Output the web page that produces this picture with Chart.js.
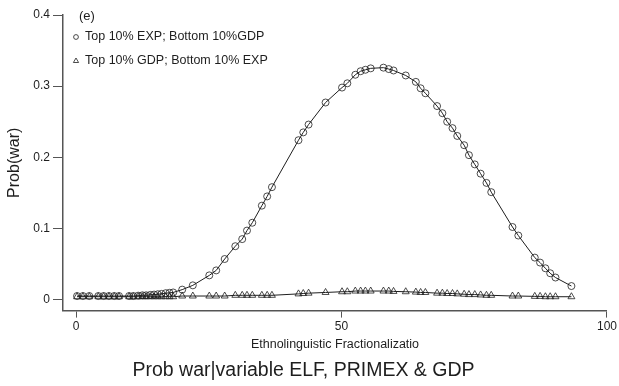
<!DOCTYPE html>
<html>
<head>
<meta charset="utf-8">
<script src="https://cdn.jsdelivr.net/npm/chart.js@4.4.0/dist/chart.umd.min.js"></script>
<style>
    html, body { margin: 0; padding: 0; background: #fff; }
    #wrap { width: 619px; height: 386px; position: relative; }
</style>
</head>
<body>
<div id="wrap"><canvas id="probWarChart"></canvas></div>
<script>
const FONT = "'Liberation Sans', Arial, sans-serif";
const INK = '#1e1e1e';
const AXIS = '#555555';

const elf = [0.2, 1.3, 2.5, 4.2, 5.2, 6.2, 7.2, 8.1,
    10.0, 10.8, 11.7, 12.5, 13.2, 14.0, 14.7, 15.4, 16.1, 16.9, 17.6, 18.3,
    20.0, 22.0, 25.1, 26.4, 28.0, 30.0, 31.3, 32.2, 33.2, 35.0, 36.0, 36.9,
    41.9, 42.8, 43.8, 47.0, 50.1, 51.1, 52.6, 53.6, 54.5, 55.5, 57.9, 58.9, 59.8,
    62.1, 64.0, 64.9, 65.8, 68.0, 69.0, 69.9, 70.9, 71.8, 73.1, 74.0, 75.1, 76.2,
    77.3, 78.2, 82.2, 83.3, 86.4, 87.4, 88.4, 89.3, 90.3, 93.3];

const topExpBottomGdp = [0.005, 0.005, 0.005, 0.005, 0.005, 0.005, 0.005, 0.005,
    0.005, 0.005, 0.0055, 0.006, 0.006, 0.0066, 0.007, 0.0075, 0.008, 0.009, 0.0095, 0.010,
    0.014, 0.020, 0.034, 0.041, 0.057, 0.075, 0.085, 0.097, 0.108, 0.132, 0.145, 0.158,
    0.224, 0.235, 0.246, 0.277, 0.298, 0.304, 0.316, 0.321, 0.323, 0.325, 0.326, 0.324, 0.322,
    0.315, 0.306, 0.297, 0.290, 0.272, 0.262, 0.250, 0.241, 0.230, 0.217, 0.203, 0.190, 0.177,
    0.164, 0.151, 0.102, 0.090, 0.059, 0.052, 0.044, 0.037, 0.031, 0.019];

const topGdpBottomExp = [0.004, 0.004, 0.004, 0.004, 0.004, 0.004, 0.004, 0.004,
    0.004, 0.004, 0.004, 0.004, 0.004, 0.004, 0.004, 0.004, 0.004, 0.004, 0.004, 0.004,
    0.005, 0.005, 0.005, 0.005, 0.005, 0.006, 0.006, 0.006, 0.006, 0.006, 0.006, 0.006,
    0.008, 0.0085, 0.009, 0.010, 0.011, 0.011, 0.012, 0.012, 0.012, 0.012, 0.012, 0.012, 0.0115,
    0.011, 0.0105, 0.010, 0.010, 0.009, 0.009, 0.0085, 0.0085, 0.008, 0.0075, 0.007, 0.007, 0.0065,
    0.006, 0.006, 0.005, 0.005, 0.0045, 0.0045, 0.004, 0.004, 0.004, 0.004];

const seriesLabels = ['Top 10% EXP; Bottom 10%GDP', 'Top 10% GDP; Bottom 10% EXP'];
const xTicks = [0, 50, 100];
const yTicks = [0, 0.1, 0.2, 0.3, 0.4];
const panelTag = '(e)';

const toPoints = (ys) => elf.map((x, i) => ({ x: x, y: ys[i] }));

// legend + panel tag drawn inside the plot, top-left
const panelLegend = {
    id: 'panelLegend',
    afterDatasetsDraw(chart) {
        const ctx = chart.ctx;
        ctx.save();
        ctx.fillStyle = INK;
        ctx.textBaseline = 'middle';
        ctx.font = '13px ' + FONT;
        ctx.fillText(panelTag, 79, 16);
        ctx.font = '12.5px ' + FONT;
        chart.data.datasets.forEach((ds, i) => {
            const y = 37 + i * 24;
            ctx.fillStyle = 'rgba(0,0,0,0)';
            ctx.strokeStyle = INK;
            ctx.lineWidth = 0.8;
            Chart.helpers.drawPoint(ctx, {
                pointStyle: ds.pointStyle,
                radius: i === 0 ? 2.4 : 3,
                rotation: 0,
                borderWidth: 0.8
            }, 76, y);
            ctx.fillStyle = INK;
            ctx.fillText(ds.label, 85, y);
        });
        ctx.restore();
    }
};

new Chart(document.getElementById('probWarChart'), {
    type: 'line',
    data: {
        datasets: [{
            label: seriesLabels[0],
            data: toPoints(topExpBottomGdp),
            pointStyle: 'circle',
            pointRadius: 3.5,
            pointBorderWidth: 0.8,
            pointBorderColor: INK,
            pointBackgroundColor: 'rgba(0,0,0,0)',
            borderColor: INK,
            borderWidth: 1,
            tension: 0
        }, {
            label: seriesLabels[1],
            data: toPoints(topGdpBottomExp),
            pointStyle: 'triangle',
            pointRadius: 4,
            pointBorderWidth: 0.8,
            pointBorderColor: INK,
            pointBackgroundColor: 'rgba(0,0,0,0)',
            borderColor: INK,
            borderWidth: 1,
            tension: 0
        }]
    },
    options: {
        responsive: true,
        maintainAspectRatio: false,
        animation: false,
        layout: { padding: { top: 15, right: 12, left: 0, bottom: 0 } },
        plugins: {
            legend: { display: false },
            tooltip: { enabled: false },
            title: {
                display: true,
                position: 'bottom',
                text: 'Prob war|variable ELF, PRIMEX & GDP',
                color: INK,
                font: { family: FONT, size: 19.5, weight: 'normal' },
                padding: { top: 3, bottom: 4 }
            }
        },
        scales: {
            x: {
                type: 'linear',
                min: -2.45,
                max: 100,
                afterBuildTicks: (scale) => { scale.ticks = xTicks.map(v => ({ value: v })); },
                afterFit: (scale) => { scale.height = 45; },
                grid: { drawOnChartArea: false, tickLength: 7, tickColor: AXIS, tickWidth: 1 },
                border: { color: AXIS, width: 1.5 },
                ticks: {
                    color: INK,
                    padding: 2,
                    maxRotation: 0,
                    autoSkip: false,
                    font: { family: FONT, size: 12 },
                    callback: (v) => String(v)
                },
                title: {
                    display: true,
                    text: 'Ethnolinguistic Fractionalizatio',
                    color: INK,
                    font: { family: FONT, size: 12.5 },
                    padding: { top: 0, bottom: 4 }
                }
            },
            y: {
                min: -0.0155,
                max: 0.4,
                afterBuildTicks: (scale) => { scale.ticks = yTicks.map(v => ({ value: v })); },
                afterFit: (scale) => { scale.width = 63; },
                grid: { drawOnChartArea: false, tickLength: 10, tickColor: AXIS, tickWidth: 1 },
                border: { color: AXIS, width: 1.5 },
                ticks: {
                    color: INK,
                    padding: 3,
                    font: { family: FONT, size: 12 },
                    callback: (v) => (v === 0 ? '0' : v.toFixed(1))
                },
                title: {
                    display: true,
                    text: 'Prob(war)',
                    color: INK,
                    font: { family: FONT, size: 16 },
                    padding: { top: 5, bottom: 0 }
                }
            }
        }
    },
    plugins: [panelLegend]
});
</script>
</body>
</html>
